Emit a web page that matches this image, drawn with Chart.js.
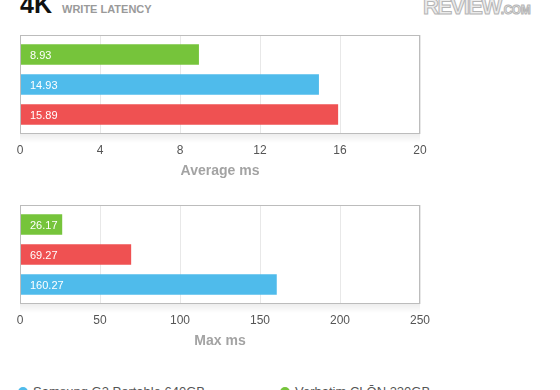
<!DOCTYPE html>
<html>
<head>
<meta charset="utf-8">
<script src="https://cdn.jsdelivr.net/npm/chart.js@4"></script>
<style>
  body { margin: 0; background: #fff; font-family: "Liberation Sans", Arial, sans-serif; }
  #wrap { position: relative; width: 560px; height: 390px; overflow: hidden; }
  canvas { position: absolute; left: 0; }
  .head { position: absolute; left: 20px; top: -10px; font-weight: bold; font-size: 25px; color: #111; }
  .sub { position: absolute; left: 62px; top: 3px; font-weight: bold; font-size: 11px; color: #9a9a9a; }
  .logo { position: absolute; left: 423px; top: -6px; font-weight: bold; font-size: 22px; color: #ececec;
          -webkit-text-stroke: 1px #b5b5b5; letter-spacing: -1.5px; }
  .logo small { font-size: 12px; letter-spacing: -0.5px; }
  .legend { position: absolute; top: 383px; font-size: 13px; color: #555; line-height: 18px; }
  .legend i { display: inline-block; width: 10px; height: 10px; border-radius: 50%; margin-right: 5px; vertical-align: -1px; }
</style>
</head>
<body>
<div id="wrap">
  <div class="head">4K</div>
  <div class="sub">WRITE LATENCY</div>
  <div class="logo">REVIEW<small>.COM</small></div>
  <canvas id="avgChart" width="560" height="180" style="top:0"></canvas>
  <canvas id="maxChart" width="560" height="180" style="top:170px"></canvas>
  <div class="legend" style="left:18px"><i style="background:#4fbbeb"></i>Samsung G3 Portable 640GB</div>
  <div class="legend" style="left:280px"><i style="background:#76c43b"></i>Verbatim CLŌN 320GB</div>
</div>
<script>
// === Data ===
const avgLabels = ['Verbatim CLŌN 320GB', 'Samsung G3 Portable 640GB', 'Third drive'];
const avgValues = [8.93, 14.93, 15.89];
const avgColors = ['#76c43b', '#4fbbeb', '#ef5152'];
const avgTicks = [0, 4, 8, 12, 16, 20];

const maxLabels = ['Verbatim CLŌN 320GB', 'Third drive', 'Samsung G3 Portable 640GB'];
const maxValues = [26.17, 69.27, 160.27];
const maxColors = ['#76c43b', '#ef5152', '#4fbbeb'];
const maxTicks = [0, 50, 100, 150, 200, 250];

// === Plot box, shadow and in-bar labels ===
const boxPlugin = {
  id: 'box',
  beforeDraw(chart) {
    const { ctx, chartArea: a } = chart;
    const g = ctx.createLinearGradient(0, a.bottom, 0, a.bottom + 9);
    g.addColorStop(0, 'rgba(0,0,0,0.07)');
    g.addColorStop(1, 'rgba(0,0,0,0)');
    ctx.save();
    ctx.fillStyle = g;
    ctx.fillRect(a.left, a.bottom, a.right - a.left, 9);
    ctx.restore();
  },
  afterDraw(chart) {
    const { ctx, chartArea: a } = chart;
    ctx.save();
    ctx.strokeStyle = '#bcbcbc';
    ctx.lineWidth = 1;
    ctx.strokeRect(a.left + 0.5, a.top + 0.5, a.right - a.left - 1, a.bottom - a.top - 1);
    ctx.fillStyle = '#fff';
    ctx.font = '11px "Liberation Sans", Arial, sans-serif';
    ctx.textBaseline = 'middle';
    chart.getDatasetMeta(0).data.forEach((bar, i) => {
      ctx.fillText(chart.data.datasets[0].data[i].x.toFixed(2), a.left + 10, bar.y + 1);
    });
    ctx.restore();
  }
};

function makeChart(id, labels, values, colors, ticks, title) {
  return new Chart(document.getElementById(id), {
    type: 'bar',
    data: {
      labels: labels,
      datasets: [{
        data: values.map((v, i) => ({ x: v, y: i })),
        backgroundColor: colors,
        barThickness: 20
      }]
    },
    options: {
      indexAxis: 'y',
      responsive: false,
      animation: false,
      devicePixelRatio: 1,
      layout: { padding: { left: 20, right: 140, top: 35, bottom: 0 } },
      plugins: { legend: { display: false }, tooltip: { enabled: false } },
      scales: {
        x: {
          min: ticks[0],
          max: ticks[ticks.length - 1],
          afterBuildTicks: s => { s.ticks = ticks.map(v => ({ value: v })); },
          afterFit: s => { s.height = 46; },
          ticks: { color: '#555', font: { size: 12 }, padding: 9 },
          grid: { color: '#e8e8e8', drawTicks: false },
          border: { display: false },
          title: { display: true, text: title, color: '#a3a3a3',
                   font: { size: 14, weight: 'bold' }, padding: { top: 4, bottom: 0 } }
        },
        y: { type: 'linear', min: -0.65, max: labels.length - 0.35, reverse: true,
             offset: false, display: false }
      }
    },
    plugins: [boxPlugin]
  });
}

makeChart('avgChart', avgLabels, avgValues, avgColors, avgTicks, 'Average ms');
makeChart('maxChart', maxLabels, maxValues, maxColors, maxTicks, 'Max ms');
</script>
</body>
</html>
